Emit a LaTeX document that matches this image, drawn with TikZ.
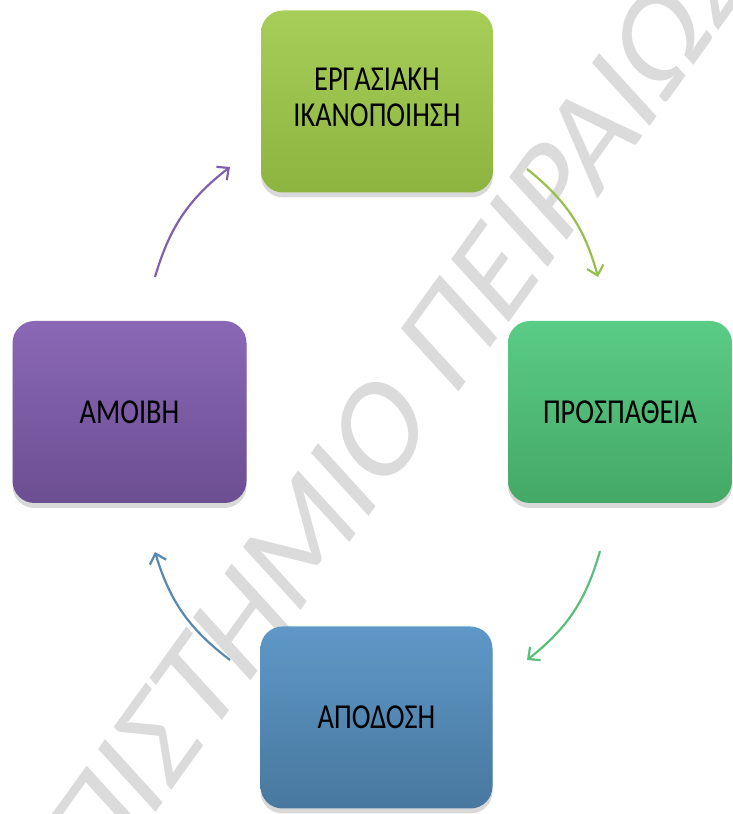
\documentclass[tikz,border=0pt]{standalone}
\usepackage{fontspec}
\setmainfont{Carlito}
\usepackage{graphicx}
\usetikzlibrary{shadows,arrows.meta}
\definecolor{wmgray}{RGB}{219,219,219}
\definecolor{olvT}{RGB}{168,206,90}
\definecolor{olvB}{RGB}{142,180,64}
\definecolor{olvA}{RGB}{150,192,76}
\definecolor{grnT}{RGB}{90,204,134}
\definecolor{grnB}{RGB}{68,168,102}
\definecolor{grnA}{RGB}{88,192,122}
\definecolor{bluT}{RGB}{94,152,200}
\definecolor{bluB}{RGB}{72,120,158}
\definecolor{bluA}{RGB}{88,136,176}
\definecolor{purT}{RGB}{138,104,182}
\definecolor{purB}{RGB}{108,78,146}
\definecolor{purA}{RGB}{128,96,172}
\newcommand{\bxt}[1]{\scalebox{0.81}[1]{#1}}
\begin{document}
\begin{tikzpicture}[x=1pt,y=1pt,
  card/.style={rounded corners=22pt, minimum width=232pt, minimum height=182pt,
    inner sep=0pt, text=black, font=\fontsize{35}{36}\selectfont,
    drop shadow={shadow xshift=0pt,shadow yshift=-5pt,opacity=0.3}},
  cyc/.style={line width=2.2pt, -{Straight Barb[length=9pt,width=17pt,line width=2.2pt]}, bend left=18}]
\useasboundingbox (0,0) rectangle (733,814);
\clip (0,0) rectangle (733,814);
\begin{scope}[xscale=0.81]
\node[transform shape, rotate=48.4, text=wmgray, font=\fontsize{148}{148}\selectfont, inner sep=0pt] (wm) at (376.2,279.6) {ΠΑΝΕΠΙΣΤΗΜΙΟ ΠΕΙΡΑΙΩΣ};
\end{scope}
\node[card, top color=olvT, bottom color=olvB] (ikan) at (377,712.5)
  {\bxt{\begin{tabular}{@{}c@{}}ΕΡΓΑΣΙΑΚΗ\\ΙΚΑΝΟΠΟΙΗΣΗ\end{tabular}}};
\node[card, minimum width=224pt, top color=grnT, bottom color=grnB] (prosp) at (620,402) {\bxt{ΠΡΟΣΠΑΘΕΙΑ}};
\node[card, top color=bluT, bottom color=bluB] (apod) at (376.5,96.5) {\bxt{ΑΠΟΔΟΣΗ}};
\node[card, minimum width=234pt, top color=purT, bottom color=purB] (amoib) at (129.5,402) {\bxt{ΑΜΟΙΒΗ}};
\coordinate (a1) at (527,645);
\coordinate (a2) at (598,537);
\coordinate (b1) at (600,263);
\coordinate (b2) at (527,154);
\coordinate (c1) at (230,154);
\coordinate (c2) at (155,262);
\coordinate (d1) at (155,537);
\coordinate (d2) at (230,647);
\draw[cyc, olvA] (a1) to (a2);
\draw[cyc, grnA] (b1) to (b2);
\draw[cyc, bluA] (c1) to (c2);
\draw[cyc, purA] (d1) to (d2);
\end{tikzpicture}
\end{document}
